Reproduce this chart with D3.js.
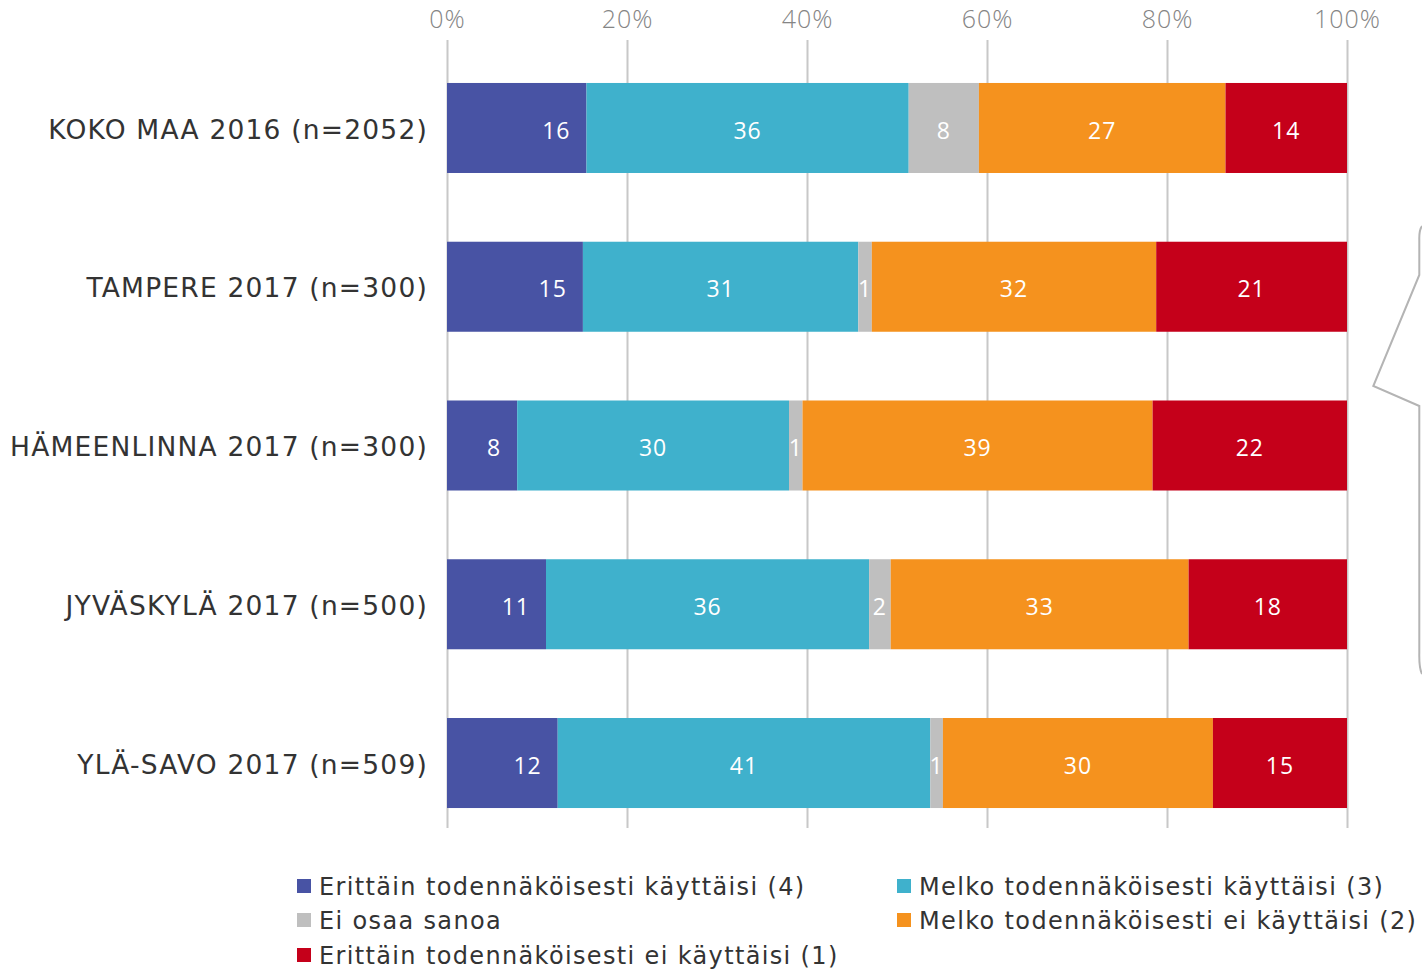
<!DOCTYPE html>
<meta charset="utf-8">
<body style="margin:0;background:#fff">
<style>
  .cat .tick text { font-family: "DejaVu Sans", Verdana, sans-serif; font-size: 26.5px; fill: #333; letter-spacing: 1.2px; }
  .xax .tick text { font-family: "Open Sans", sans-serif; font-weight: 300; font-size: 25px; fill: #858585; letter-spacing: 1px; }
  .lbl { font-family: "Open Sans", sans-serif; font-size: 23px; fill: #fff; letter-spacing: 1px; }
  .legend text { font-family: "DejaVu Sans", Verdana, sans-serif; font-size: 24px; fill: #333; letter-spacing: 1.35px; }
</style>
<svg width="1422" height="969"></svg>
<script src="https://d3js.org/d3.v7.min.js"></script>
<script>

// categories (top to bottom)
var categories = ["KOKO MAA 2016 (n=2052)", "TAMPERE 2017 (n=300)", "HÄMEENLINNA 2017 (n=300)",
                  "JYVÄSKYLÄ 2017 (n=500)", "YLÄ-SAVO 2017 (n=509)"];

var seriesNames = ["Erittäin todennäköisesti käyttäisi (4)", "Melko todennäköisesti käyttäisi (3)",
                   "Ei osaa sanoa", "Melko todennäköisesti ei käyttäisi (2)",
                   "Erittäin todennäköisesti ei käyttäisi (1)"];
var colors = ["#4853a4", "#3fb1cc", "#bfbfbf", "#f5921e", "#c5001a"];

// shares in %, one array per series
var s4 = [15.5, 15.1, 7.8, 11.0, 12.3];
var s3 = [35.8, 30.6, 30.2, 35.9, 41.4];
var s0 = [7.8, 1.5, 1.5, 2.4, 1.4];
var s2 = [27.4, 31.6, 38.9, 33.1, 30.0];
var s1 = [13.5, 21.2, 21.6, 17.6, 14.9];

// printed data labels
var l4 = [16, 15, 8, 11, 12];
var l3 = [36, 31, 30, 36, 41];
var l0 = [8, 1, 1, 2, 1];
var l2 = [27, 32, 39, 33, 30];
var l1 = [14, 21, 22, 18, 15];

var ticks = [0, 20, 40, 60, 80, 100];

var values = [s4, s3, s0, s2, s1];
var labels = [l4, l3, l0, l2, l1];

var rows = categories.map(function(c, i) {
  var o = {cat: c};
  seriesNames.forEach(function(s, k) { o[k] = values[k][i]; });
  return o;
});
var stacked = d3.stack().keys([0, 1, 2, 3, 4])(rows);

var svg = d3.select("svg");

var x = d3.scaleLinear().domain([0, 100]).range([447, 1347]);
var y = d3.scaleBand().domain(categories).range([48.6, 842.4])
    .paddingInner(0.433).paddingOuter(0.2165);

// gridlines
svg.append("g")
  .selectAll("line")
  .data(ticks)
  .enter().append("line")
    .attr("x1", function(d) { return x(d) + 0.5; })
    .attr("x2", function(d) { return x(d) + 0.5; })
    .attr("y1", 40)
    .attr("y2", 828)
    .attr("stroke", "#c8c8c8")
    .attr("stroke-width", 2);

// top axis labels
var xAxis = svg.append("g")
    .attr("class", "xax")
    .attr("transform", "translate(0,36)")
    .call(d3.axisTop(x).tickValues(ticks).tickFormat(function(d) { return d + "%"; }).tickSize(0).tickPadding(8));
xAxis.select(".domain").remove();

// bars
var layer = svg.append("g")
  .selectAll("g")
  .data(stacked)
  .enter().append("g")
    .attr("fill", function(d, k) { return colors[k]; });

layer.selectAll("rect")
  .data(function(d) { return d; })
  .enter().append("rect")
    .attr("x", function(d) { return x(d[0]); })
    .attr("width", function(d) { return x(d[1]) - x(d[0]); })
    .attr("y", function(d) { return y(d.data.cat); })
    .attr("height", y.bandwidth());

// data labels
stacked.forEach(function(ser, k) {
  svg.append("g").selectAll("text")
    .data(ser)
    .enter().append("text")
      .attr("class", "lbl")
      .attr("x", function(d) { return k == 0 ? x(d[1]) - 16 : (x(d[0]) + x(d[1])) / 2; })
      .attr("y", function(d) { return y(d.data.cat) + y.bandwidth() / 2; })
      .attr("dy", "0.46em")
      .attr("text-anchor", k == 0 ? "end" : "middle")
      .text(function(d, i) { return labels[k][i]; });
});

// category labels
var yAxis = svg.append("g")
    .attr("class", "cat")
    .attr("transform", "translate(428,0)")
    .call(d3.axisLeft(y).tickSize(0).tickPadding(0));
yAxis.select(".domain").remove();
yAxis.selectAll("text").attr("dy", "0.4em");

// bracket shape at right edge
svg.append("path")
  .attr("d", "M1422,226 Q1419,230 1419.3,240 L1419.3,275 L1373.3,386 L1419.3,406 L1419.3,653 Q1419,668 1422,674")
  .attr("fill", "none")
  .attr("stroke", "#b4b4b4")
  .attr("stroke-width", 2);

// legend
var legPos = [[297, 886], [897, 886], [297, 920], [897, 920], [297, 955]];
var leg = svg.append("g").attr("class", "legend")
  .selectAll("g")
  .data(seriesNames)
  .enter().append("g")
    .attr("transform", function(d, k) { return "translate(" + legPos[k][0] + "," + legPos[k][1] + ")"; });
leg.append("rect")
  .attr("x", 0).attr("y", -7)
  .attr("width", 14).attr("height", 14)
  .attr("fill", function(d, k) { return colors[k]; });
leg.append("text")
  .attr("x", 22)
  .attr("dy", "0.36em")
  .text(function(d) { return d; });

</script>
</body>
